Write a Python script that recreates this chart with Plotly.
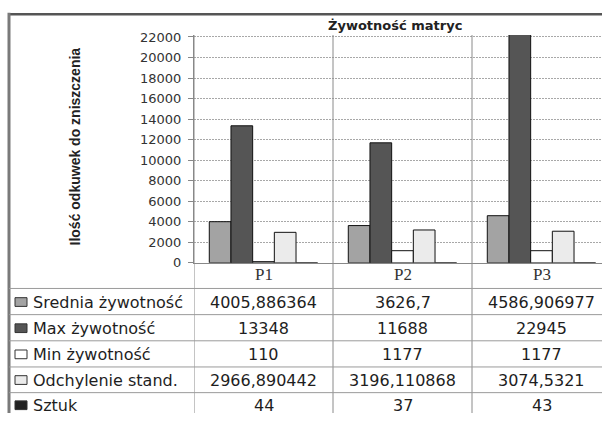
import plotly.graph_objects as go

# ---------------- data ----------------
categories = ["P1", "P2", "P3"]
series_names = ["Srednia żywotność", "Max żywotność", "Min żywotność",
                "Odchylenie stand.", "Sztuk"]
srednia = [4005.886364, 3626.7, 4586.906977]
max_zyw = [13348, 11688, 22945]
min_zyw = [110, 1177, 1177]
odchylenie = [2966.890442, 3196.110868, 3074.5321]
sztuk = [44, 37, 43]
title_text = "Żywotność matryc"
y_title = "Ilość odkuwek do zniszczenia"
y_tick_step = 2000

series_values = [srednia, max_zyw, min_zyw, odchylenie, sztuk]

# ---------------- style ----------------
W, H = 602, 421
bar_colors = ["#a3a3a3", "#555555", "#ffffff", "#ebebeb", "#222222"]
bar_line_widths = [1, 1, 1, 1, 0]
SANS = "DejaVu Sans"


def px(x):
    return x / W


def py(y):
    return 1 - y / H


def fmt(v):
    if isinstance(v, int):
        return str(v)
    return repr(v).replace(".", ",")


plot_left, plot_top, plot_bottom = 194, 31, 266
row_lines = [292.5, 319.5, 346.5, 373.5, 400]
row_centers = [306.5, 333.5, 360.5, 387, 413]

fig = go.Figure()
for name, vals, col, lw in zip(series_names, series_values, bar_colors, bar_line_widths):
    fig.add_trace(go.Bar(
        x=categories, y=vals, name=name,
        marker=dict(color=col, line=dict(color="#111111", width=lw)),
        showlegend=False,
    ))

shapes = []
annotations = []

# frame
shapes.append(dict(type="line", xref="paper", yref="paper",
                   x0=px(8), x1=1, y0=py(9.5), y1=py(9.5),
                   line=dict(color="#555555", width=2.5)))
shapes.append(dict(type="line", xref="paper", yref="paper",
                   x0=px(9), x1=px(9), y0=py(8), y1=0,
                   line=dict(color="#7a7a7a", width=3)))

# vertical category separators through the table
for i in range(len(categories)):
    shapes.append(dict(type="line", xref="x", yref="paper",
                       x0=i - 0.5, x1=i - 0.5, y0=py(plot_top), y1=0,
                       line=dict(color="#8a8a8a", width=1)))

# horizontal table lines
for yl in row_lines:
    shapes.append(dict(type="line", xref="paper", yref="paper",
                       x0=px(9), x1=1, y0=py(yl), y1=py(yl),
                       line=dict(color="#9a9a9a", width=1)))

# category labels row
for c in categories:
    annotations.append(dict(x=c, xref="x", y=py(278.5), yref="paper",
                            text=c, showarrow=False,
                            font=dict(family="Liberation Serif", size=17, color="#333333"),
                            xanchor="center", yanchor="middle"))

# table rows: legend key + label + values
for r, (name, vals, col) in enumerate(zip(series_names, series_values, bar_colors)):
    yc = row_centers[r]
    shapes.append(dict(type="rect", xref="paper", yref="paper",
                       x0=px(15), x1=px(27), y0=py(yc - 4.5), y1=py(yc + 4.5),
                       fillcolor=col, line=dict(color="#333333", width=1)))
    annotations.append(dict(x=px(31), xref="paper", y=py(yc), yref="paper",
                            text=name, showarrow=False,
                            font=dict(family=SANS, size=16, color="#1e1e1e"),
                            xanchor="left", yanchor="middle"))
    for c, v in zip(categories, vals):
        annotations.append(dict(x=c, xref="x", y=py(yc), yref="paper",
                                text=fmt(v), showarrow=False,
                                font=dict(family=SANS, size=16, color="#1e1e1e"),
                                xanchor="center", yanchor="middle"))

# title
annotations.append(dict(x=px(395), xref="paper", y=py(21), yref="paper",
                        text="<b>" + title_text + "</b>", showarrow=False,
                        font=dict(family=SANS, size=13, color="#222222"),
                        xanchor="center", yanchor="middle"))
# y axis title
annotations.append(dict(x=px(75), xref="paper", y=py(146), yref="paper",
                        text="<b>" + y_title + "</b>", showarrow=False, textangle=-90,
                        font=dict(family="Liberation Sans", size=14, color="#222222"),
                        xanchor="center", yanchor="middle"))

ymax = (plot_bottom - plot_top) / ((plot_bottom - 33) / 22000.0)
ncat_span = (W - plot_left) / 139.0

fig.update_layout(
    width=W, height=H, autosize=False,
    margin=dict(l=0, r=0, t=0, b=0, pad=0),
    paper_bgcolor="white", plot_bgcolor="white",
    barmode="group", bargap=0.22, bargroupgap=0,
    shapes=shapes, annotations=annotations,
    xaxis=dict(domain=[px(plot_left), 1], type="category",
               range=[-0.5, -0.5 + ncat_span],
               showticklabels=False, showgrid=False, zeroline=False,
               showline=True, linecolor="#888888", linewidth=1, ticks=""),
    yaxis=dict(domain=[py(plot_bottom), py(plot_top)],
               range=[0, ymax], dtick=y_tick_step, tick0=0, tickformat="d",
               showgrid=True, gridcolor="#a8a8a8", griddash="2px,1px", gridwidth=1,
               zeroline=False, showline=True, linecolor="#888888", linewidth=1,
               ticks="outside", ticklen=5, tickcolor="#888888",
               tickfont=dict(family=SANS, size=13, color="#333333"),
               ticklabelstandoff=4),
)

fig.write_html("out.html", config={"displayModeBar": False})
